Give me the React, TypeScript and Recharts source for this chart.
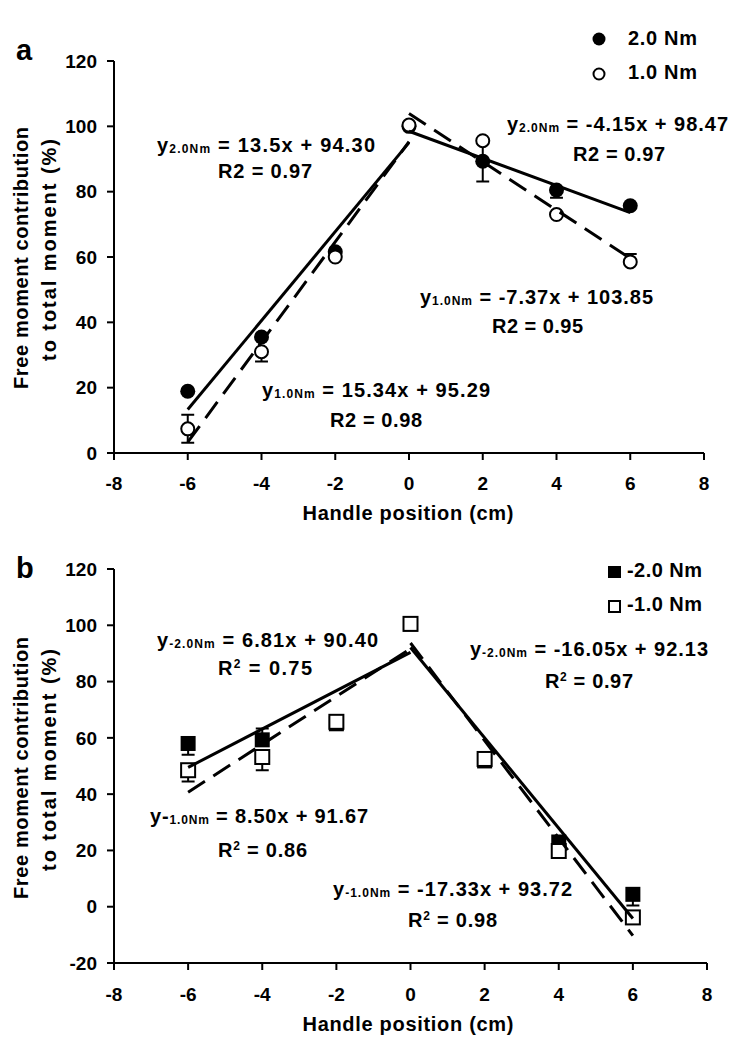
import React from 'react';
import { ComposedChart, Line, Scatter, XAxis, YAxis } from 'recharts';

// ---------- data ----------
const positions = [-6, -4, -2, 0, 2, 4, 6];
const xTicks = [-8, -6, -4, -2, 0, 2, 4, 6, 8];
const yTicksA = [0, 20, 40, 60, 80, 100, 120];
const yTicksB = [-20, 0, 20, 40, 60, 80, 100, 120];

// panel a  (visible error bars: [below, above])
const a2Nm = [18.9, 35.5, 61.6, 100, 89.3, 80.5, 75.7];
const a2NmErr = [[0, 0], [0, 0], [0, 0], [0, 0], [6.2, 6.2], [2.4, 0], [0, 0]];
const a1Nm = [7.4, 31.0, 60.0, 100.4, 95.6, 73.0, 58.5];
const a1NmErr = [[4.3, 4.3], [3.0, 0], [0, 0], [0, 0], [0, 0], [0, 0], [0, 2.4]];

// panel b
const bNeg2Nm = [58.0, 59.3, 65.0, 100.5, 51.8, 23.0, 4.4];
const bNeg2NmErr = [[4.0, 0], [0, 4.0], [0, 0], [0, 0], [0, 0], [0, 0], [4.0, 0]];
const bNeg1Nm = [48.5, 53.2, 65.7, 100.5, 52.5, 19.8, -3.8];
const bNeg1NmErr = [[4.0, 0], [4.7, 0], [0, 0], [0, 0], [0, 0], [0, 0], [0, 0]];

// fitted trend lines (end points)
const fitA2Left = [[-6, 13.3], [0, 95.0]];
const fitA2Right = [[0, 98.5], [6, 73.6]];
const fitA1Left = [[-6, 3.3], [0, 95.3]];
const fitA1Right = [[0, 103.9], [6, 59.6]];
const fitB2Left = [[-6, 49.5], [0, 90.4]];
const fitB2Right = [[0, 92.1], [6, -4.2]];
const fitB1Left = [[-6, 40.7], [0, 91.7]];
const fitB1Right = [[0, 93.7], [6, -10.3]];

// ---------- helpers ----------
const CAP = 0.175; // half width of an error-bar cap, in x units

const toPoints = (ys: number[]) => positions.map((x, i) => ({ x, y: ys[i] }));
const toLine = (pairs: number[][]) => pairs.map(([x, y]) => ({ x, y }));

// error bars as one broken polyline (gaps via null values)
const toErrorPath = (ys: number[], errs: number[][]) => {
  const pts: { x: number; y: number | null }[] = [];
  positions.forEach((x, i) => {
    const y = ys[i];
    const [lo, hi] = errs[i];
    if (lo > 0) {
      pts.push({ x, y }, { x, y: y - lo }, { x, y: null });
      pts.push({ x: x - CAP, y: y - lo }, { x: x + CAP, y: y - lo }, { x, y: null });
    }
    if (hi > 0) {
      pts.push({ x, y }, { x, y: y + hi }, { x, y: null });
      pts.push({ x: x - CAP, y: y + hi }, { x: x + CAP, y: y + hi }, { x, y: null });
    }
  });
  return pts;
};

const FONT = '"Liberation Sans", Arial, Helvetica, sans-serif';

const FilledCircle = (p: any) => <circle cx={p.cx} cy={p.cy} r={7.5} fill="#000" />;
const OpenCircle = (p: any) => (
  <circle cx={p.cx} cy={p.cy} r={6.5} fill="#fff" stroke="#000" strokeWidth={2} />
);
const FilledSquare = (p: any) => (
  <rect x={p.cx - 7.5} y={p.cy - 7.5} width={15} height={15} fill="#000" />
);
const OpenSquare = (p: any) => (
  <rect x={p.cx - 7} y={p.cy - 7} width={14} height={14} fill="#fff" stroke="#000" strokeWidth={2} />
);

const tickStyle = { fill: '#000', fontSize: 19, fontWeight: 'bold', fontFamily: FONT } as any;
const axisStroke = { stroke: '#000', strokeWidth: 2 };

type PanelProps = {
  height: number;
  top: number;
  right: number;
  xAxisHeight: number;
  yDomain: [number, number];
  yTicks: number[];
  tickMarginX: number;
  y1: number[];
  e1: number[][];
  y2: number[];
  e2: number[][];
  shape1: any;
  shape2: any;
  lines: { data: { x: number; y: number }[]; dashed: boolean }[];
};

function Panel(p: PanelProps) {
  return (
    <ComposedChart
      width={731}
      height={p.height}
      margin={{ top: p.top, right: p.right, bottom: 0, left: 0 }}
    >
      <XAxis
        type="number"
        dataKey="x"
        domain={[-8, 8]}
        ticks={xTicks}
        tickSize={7}
        tickMargin={p.tickMarginX}
        axisLine={axisStroke}
        tickLine={axisStroke}
        tick={tickStyle}
        height={p.xAxisHeight}
        allowDataOverflow
      />
      <YAxis
        type="number"
        dataKey="y"
        domain={p.yDomain}
        ticks={p.yTicks}
        tickSize={7}
        tickMargin={10}
        axisLine={axisStroke}
        tickLine={axisStroke}
        tick={tickStyle}
        width={114}
        allowDataOverflow
      />
      {/* error bars (under the markers) */}
      <Line
        data={toErrorPath(p.y1, p.e1)}
        dataKey="y"
        type="linear"
        stroke="#000"
        strokeWidth={2}
        dot={false}
        activeDot={false}
        connectNulls={false}
        isAnimationActive={false}
        {...({ zIndex: 400 } as any)}
      />
      <Line
        data={toErrorPath(p.y2, p.e2)}
        dataKey="y"
        type="linear"
        stroke="#000"
        strokeWidth={2}
        dot={false}
        activeDot={false}
        connectNulls={false}
        isAnimationActive={false}
        {...({ zIndex: 400 } as any)}
      />
      <Scatter data={toPoints(p.y1)} shape={p.shape1} isAnimationActive={false} {...({ zIndex: 600 } as any)} />
      <Scatter data={toPoints(p.y2)} shape={p.shape2} isAnimationActive={false} {...({ zIndex: 610 } as any)} />
      {p.lines.map((l, i) => (
        <Line
          key={i}
          data={l.data}
          dataKey="y"
          type="linear"
          stroke="#000"
          strokeWidth={3}
          strokeDasharray={l.dashed ? '20 10' : undefined}
          dot={false}
          activeDot={false}
          isAnimationActive={false}
          {...({ zIndex: 700 } as any)}
        />
      ))}
    </ComposedChart>
  );
}

const txt = { fontFamily: FONT, fontWeight: 'bold', fontSize: 20, fill: '#000' } as any;

function Eq(props: { x: number; y: number; main: string; sub: string; rest: string; len: number }) {
  return (
    <text x={props.x} y={props.y} style={txt} textLength={props.len} lengthAdjust="spacing">
      {props.main}
      <tspan fontSize={12} dy={1}>{props.sub}</tspan>
      <tspan dy={-1}>{props.rest}</tspan>
    </text>
  );
}

function RSq(props: { x: number; y: number; val: string; len: number; sup?: boolean }) {
  if (!props.sup) {
    return (
      <text x={props.x} y={props.y} style={txt} textLength={props.len} lengthAdjust="spacing">
        {`R2 = ${props.val}`}
      </text>
    );
  }
  return (
    <text x={props.x} y={props.y} style={txt} textLength={props.len} lengthAdjust="spacing">
      R<tspan fontSize={12} dy={-7}>2</tspan>
      <tspan dy={7}>{` = ${props.val}`}</tspan>
    </text>
  );
}

export default function App() {
  return (
    <div style={{ position: 'absolute', left: 0, top: 0, width: 731, height: 1050, background: '#fff' }}>
      <div style={{ position: 'absolute', left: 0, top: 0 }}>
        <Panel
          height={530}
          top={61}
          right={27}
          xAxisHeight={77}
          yDomain={[0, 120]}
          yTicks={yTicksA}
          tickMarginX={17}
          y1={a2Nm}
          e1={a2NmErr}
          y2={a1Nm}
          e2={a1NmErr}
          shape1={FilledCircle}
          shape2={OpenCircle}
          lines={[
            { data: toLine(fitA2Left), dashed: false },
            { data: toLine(fitA2Right), dashed: false },
            { data: toLine(fitA1Left), dashed: true },
            { data: toLine(fitA1Right), dashed: true },
          ]}
        />
      </div>
      <div style={{ position: 'absolute', left: 0, top: 530 }}>
        <Panel
          height={520}
          top={39}
          right={24}
          xAxisHeight={87}
          yDomain={[-20, 120]}
          yTicks={yTicksB}
          tickMarginX={18}
          y1={bNeg2Nm}
          e1={bNeg2NmErr}
          y2={bNeg1Nm}
          e2={bNeg1NmErr}
          shape1={FilledSquare}
          shape2={OpenSquare}
          lines={[
            { data: toLine(fitB2Left), dashed: false },
            { data: toLine(fitB2Right), dashed: false },
            { data: toLine(fitB1Left), dashed: true },
            { data: toLine(fitB1Right), dashed: true },
          ]}
        />
      </div>
      <svg
        width={731}
        height={1050}
        style={{ position: 'absolute', left: 0, top: 0, pointerEvents: 'none' }}
      >
        {/* panel letters */}
        <text x={16} y={60} style={{ ...txt, fontSize: 29 }}>a</text>
        <text x={16} y={578} style={{ ...txt, fontSize: 29 }}>b</text>

        {/* axis titles panel a */}
        <text transform="translate(28,258) rotate(-90)" textAnchor="middle" style={txt} textLength={262} lengthAdjust="spacing">
          Free moment contribution
        </text>
        <text transform="translate(56,250) rotate(-90)" textAnchor="middle" style={txt} textLength={222} lengthAdjust="spacing">
          to total moment (%)
        </text>
        <text x={408} y={520} textAnchor="middle" style={txt} textLength={211} lengthAdjust="spacing">
          Handle position (cm)
        </text>

        {/* axis titles panel b */}
        <text transform="translate(28,768) rotate(-90)" textAnchor="middle" style={txt} textLength={262} lengthAdjust="spacing">
          Free moment contribution
        </text>
        <text transform="translate(56,760) rotate(-90)" textAnchor="middle" style={txt} textLength={222} lengthAdjust="spacing">
          to total moment (%)
        </text>
        <text x={408} y={1031} textAnchor="middle" style={txt} textLength={211} lengthAdjust="spacing">
          Handle position (cm)
        </text>

        {/* legend a */}
        <circle cx={599} cy={39} r={6.5} fill="#000" />
        <text x={628} y={45} style={txt} textLength={69} lengthAdjust="spacing">2.0 Nm</text>
        <circle cx={599} cy={74} r={5.5} fill="#fff" stroke="#000" strokeWidth={2} />
        <text x={628} y={79} style={txt} textLength={69} lengthAdjust="spacing">1.0 Nm</text>

        {/* legend b */}
        <rect x={608} y={566} width={13} height={12} fill="#000" />
        <text x={627} y={577} style={txt} textLength={75} lengthAdjust="spacing">-2.0 Nm</text>
        <rect x={609} y={601} width={11} height={11} fill="#fff" stroke="#000" strokeWidth={2} />
        <text x={627} y={611} style={txt} textLength={75} lengthAdjust="spacing">-1.0 Nm</text>

        {/* equations panel a */}
        <Eq x={157} y={152} main="y" sub="2.0Nm" rest=" = 13.5x + 94.30" len={218} />
        <RSq x={218} y={178} val="0.97" len={94} />
        <Eq x={507} y={131} main="y" sub="2.0Nm" rest=" = -4.15x + 98.47" len={221} />
        <RSq x={573} y={161} val="0.97" len={92} />
        <Eq x={420} y={304} main="y" sub="1.0Nm" rest=" = -7.37x + 103.85" len={233} />
        <RSq x={492} y={333} val="0.95" len={91} />
        <Eq x={262} y={397} main="y" sub="1.0Nm" rest=" = 15.34x + 95.29" len={228} />
        <RSq x={330} y={427} val="0.98" len={92} />

        {/* equations panel b */}
        <Eq x={157} y={647} main="y" sub="-2.0Nm" rest=" = 6.81x + 90.40" len={221} />
        <RSq x={218} y={675} val="0.75" len={94} sup />
        <Eq x={470} y={656} main="y" sub="-2.0Nm" rest=" = -16.05x + 92.13" len={238} />
        <RSq x={545} y={688} val="0.97" len={88} sup />
        <Eq x={150} y={823} main="y-" sub="1.0Nm" rest=" = 8.50x + 91.67" len={218} />
        <RSq x={218} y={857} val="0.86" len={89} sup />
        <Eq x={333} y={896} main="y" sub="-1.0Nm" rest=" = -17.33x + 93.72" len={239} />
        <RSq x={408} y={927} val="0.98" len={89} sup />
      </svg>
    </div>
  );
}
